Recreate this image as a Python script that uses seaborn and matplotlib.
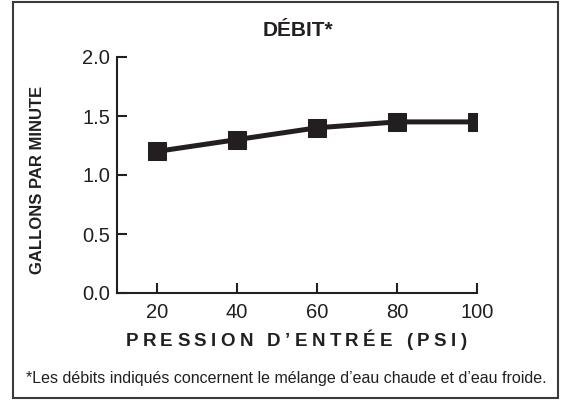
import matplotlib
matplotlib.use("Agg")
import matplotlib.pyplot as plt
from matplotlib.font_manager import FontProperties
from matplotlib.patches import Rectangle
import seaborn as sns
import pandas as pd

# data
pressure_psi = [20, 40, 60, 80, 100]
flow_gpm = [1.2, 1.3, 1.4, 1.45, 1.45]
x_ticks = [20, 40, 60, 80, 100]
y_ticks = [0.0, 0.5, 1.0, 1.5, 2.0]

title = "DÉBIT*"
x_label = "PRESSION D’ENTRÉE (PSI)"
y_label = "GALLONS PAR MINUTE"
footnote = "*Les débits indiqués concernent le mélange d’eau chaude et d’eau froide."

INK = "#231f20"

df = pd.DataFrame({"psi": pressure_psi, "gpm": flow_gpm})

sns.set_style("ticks")
plt.rcParams["font.family"] = ["Liberation Sans", "DejaVu Sans"]

fig = plt.figure(figsize=(5.63, 4.0), dpi=100)
W, H = 563, 400
ax = fig.add_axes([117 / W, 1 - 293 / H, 360 / W, 236 / H])

sns.lineplot(data=df, x="psi", y="gpm", ax=ax, color=INK, linewidth=3.6,
             marker="s", markersize=12.5, markeredgecolor=INK,
             markerfacecolor=INK)

ax.set_xlim(10, 100)
ax.set_ylim(0, 2.0)
ax.set_xticks(x_ticks)
ax.set_yticks(y_ticks)
ax.set_yticklabels([f"{v:.1f}" for v in y_ticks])
ax.tick_params(direction="in", length=7, width=1.5, labelsize=14.5,
               colors=INK)
ax.tick_params(axis="x", pad=7)
ax.tick_params(axis="y", pad=5)
for side in ["top", "right"]:
    ax.spines[side].set_visible(False)
for side in ["left", "bottom"]:
    ax.spines[side].set_linewidth(1.5)
    ax.spines[side].set_color(INK)
ax.set_xlabel("")
ax.set_ylabel("")

fig.text(298 / W, 1 - 30 / H, title, ha="center", va="center", fontsize=15,
         fontweight="bold", color=INK)
fig.text(38 / W, 1 - 180 / H, y_label, ha="center", va="center",
         rotation=90, fontsize=12, fontweight="bold", color=INK)
fig.text(286 / W, 1 - 378 / H, footnote, ha="center", va="center",
         fontsize=11.5, color=INK)

# x label is letter-spaced in the reference: place glyph by glyph
renderer = fig.canvas.get_renderer()
prop = FontProperties(family=["Liberation Sans", "DejaVu Sans"],
                      weight="bold", size=13.5)
widths = [renderer.get_text_width_height_descent(c, prop, ismath=False)[0]
          for c in x_label]
gap = 4.4
total = sum(widths) + gap * (len(x_label) - 1)
x = 296 - total / 2
for c, w in zip(x_label, widths):
    fig.text(x / W, 1 - 341 / H, c, ha="left", va="center",
             fontproperties=prop, color=INK)
    x += w + gap

fig.patches.append(Rectangle((13 / W, 2 / H), 545 / W, 396 / H,
                             transform=fig.transFigure, fill=False,
                             edgecolor="#3a3a3a", linewidth=1.5))

fig.savefig("out.png", dpi=100)
